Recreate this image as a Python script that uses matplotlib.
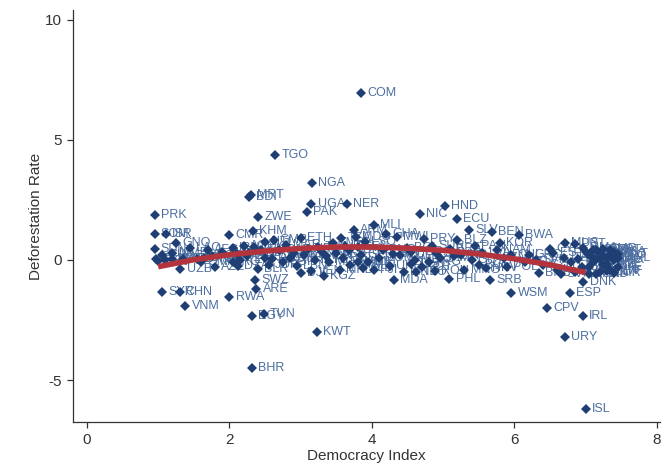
import matplotlib.pyplot as plt

# Country codes, democracy index and deforestation rate
codes = ['PRK', 'SOM', 'ISR', 'SDN', 'LAO', 'GNQ', 'CUB', 'TKM', 'LBY', 'ERI',
         'UZB', 'SYR', 'CHN', 'VNM', 'QAT', 'BTN', 'OMN', 'TCD', 'AZE', 'MMR',
         'GAB', 'AFG', 'BRN', 'SSD', 'IRN',
         'CMR', 'RWA', 'MRT', 'BDI', 'ZWE', 'KHM', 'ARE', 'EGY', 'TUN', 'BHR',
         'BLR', 'DZA', 'AGO', 'CIV', 'GIN', 'TJK', 'KAZ', 'JOR', 'RUS', 'YEM',
         'COG', 'COD', 'IRQ', 'HTI', 'GMB', 'SWZ',
         'TGO', 'NGA', 'UGA', 'PAK', 'ETH', 'MAR', 'BFA', 'GNB', 'NPL', 'LBN',
         'KEN', 'MYS', 'SGP', 'VEN', 'DJI', 'KWT', 'CAF', 'THA', 'SLE',
         'NER', 'COM', 'KGZ', 'ARM', 'MLI', 'TZA', 'ZMB', 'LKA', 'BGD', 'GTM',
         'SEN', 'MOZ', 'GEO', 'BIH', 'FJI', 'LSO', 'MKD', 'TUR', 'IDN', 'ALB',
         'MDG', 'LBR', 'MDV',
         'MWI', 'PRY', 'NIC', 'MDA', 'HND', 'MNE', 'GHA', 'BOL', 'PNG', 'COL',
         'MEX', 'ARG', 'UKR', 'PER', 'SLB', 'VUT', 'SUR', 'JAM', 'DOM', 'TTO',
         'ROU', 'TLS', 'SYC',
         'ECU', 'SLV', 'PHL', 'BEN', 'SRB', 'BRA', 'IND', 'PAN', 'BGR', 'HRV',
         'MNG', 'NAM', 'ZAF', 'LVA', 'POL', 'KOR', 'BLZ', 'GUY', 'CHL', 'STP',
         'BWA', 'WSM', 'CPV', 'ESP', 'DNK', 'IRL', 'URY', 'ISL', 'MUS', 'DMA',
         'PRT', 'GRC', 'SVK', 'CZE', 'EST', 'HUN', 'LTU', 'CYP', 'ITA', 'FRA',
         'JPN', 'SVN', 'KNA', 'GBR', 'BRB',
         'AUS', 'AUT', 'BEL', 'CAN', 'CHE', 'DEU', 'FIN', 'LUX', 'MLT', 'NLD',
         'NOR', 'NZL', 'SWE', 'USA', 'LIE', 'AND', 'SMR', 'MCO', 'BHS', 'KIR',
         'TUV', 'PLW', 'MHL', 'FSM', 'LCA', 'VCT', 'GRD', 'ATG']

democracy = [0.95, 0.95, 1.11, 0.95, 1.45, 1.25, 1.05, 0.97, 1.10, 1.00,
             1.31, 1.06, 1.30, 1.38, 1.20, 1.55, 1.60, 1.75, 1.80, 1.20,
             1.90, 1.70, 1.65, 1.35, 2.05,
             1.99, 2.00, 2.30, 2.28, 2.40, 2.33, 2.38, 2.32, 2.48, 2.32,
             2.40, 2.12, 2.20, 2.10, 2.25, 2.45, 2.50, 2.55, 2.60, 2.15,
             2.35, 2.28, 2.05, 2.50, 2.62, 2.36,
             2.64, 3.16, 3.15, 3.09, 3.00, 2.80, 2.90, 2.85, 3.10, 2.95,
             3.05, 3.20, 2.75, 3.15, 3.00, 3.23, 2.70, 3.25, 3.30,
             3.65, 3.85, 3.33, 3.75, 4.03, 3.57, 3.45, 3.50, 3.60, 3.70,
             3.80, 3.40, 3.85, 3.95, 4.03, 3.90, 3.55, 3.68, 3.35, 3.88,
             3.78, 3.62, 3.80,
             4.35, 4.73, 4.67, 4.31, 5.03, 4.45, 4.20, 4.50, 4.15, 4.40,
             4.60, 4.80, 4.25, 4.55, 4.90, 4.70, 4.85, 4.95, 4.10, 4.62,
             4.88, 4.55, 4.30,
             5.19, 5.36, 5.09, 5.68, 5.66, 5.10, 5.25, 5.45, 5.50, 5.60,
             5.30, 5.75, 5.85, 5.55, 5.90, 5.80, 5.20, 5.40, 5.95, 5.15,
             6.06, 5.96, 6.46, 6.78, 6.97, 6.96, 6.71, 7.00, 6.71, 6.97,
             6.85, 6.20, 6.30, 6.40, 6.55, 6.60, 6.15, 6.50, 6.70, 6.80,
             6.90, 6.65, 6.85, 6.95, 6.35,
             7.05, 7.10, 7.15, 7.20, 7.25, 7.30, 7.35, 7.40, 7.45, 7.05,
             7.10, 7.20, 7.30, 7.40, 7.45, 7.15, 7.25, 7.35, 7.00, 7.40,
             7.10, 7.30, 7.45, 7.20, 7.05, 7.35, 7.15, 7.25]

deforestation = [1.87, 1.08, 1.08, 0.46, 0.48, 0.70, 0.20, 0.05, -0.02, -0.05,
                 -0.37, -1.33, -1.33, -1.92, 0.05, 0.02, -0.10, 0.15, -0.30, 0.30,
                 0.35, 0.40, 0.10, 0.05, 0.50,
                 1.04, -1.54, 2.70, 2.60, 1.80, 1.20, -1.20, -2.33, -2.25, -4.50,
                 -0.38, -0.25, 0.60, 0.25, 0.15, 0.40, 0.10, -0.20, 0.05, 0.00,
                 0.55, 0.30, -0.10, 0.75, 0.85, -0.83,
                 4.37, 3.20, 2.33, 2.00, 0.92, 0.62, 0.30, 0.10, 0.45, -0.25,
                 0.20, 0.00, -0.10, -0.45, -0.55, -3.00, 0.40, 0.55, 0.35,
                 2.33, 6.96, -0.65, 1.25, 1.46, 0.92, 0.70, 0.30, 0.10, -0.20,
                 0.55, -0.10, 0.20, -0.10, -0.42, 0.75, -0.40, 0.40, 0.15, -0.35,
                 0.95, 0.60, -0.10,
                 0.95, 0.88, 1.92, -0.83, 2.25, -0.50, 1.10, 0.50, 0.40, 0.20,
                 0.00, -0.10, -0.25, 0.35, 0.30, -0.30, 0.60, 0.10, 0.10, -0.50,
                 -0.45, -0.15, 0.25,
                 1.71, 1.25, -0.79, 1.17, -0.83, 0.45, 0.20, 0.60, -0.20, -0.35,
                 -0.40, 0.40, 0.10, 0.30, -0.30, 0.70, 0.85, 0.00, 0.20, 0.15,
                 1.04, -1.37, -2.00, -1.37, -0.92, -2.33, -3.20, -6.20, 0.71, 0.50,
                 0.65, 0.20, 0.00, -0.20, 0.30, -0.42, -0.10, 0.45, 0.10, -0.10,
                 0.05, -0.60, -0.50, -0.30, -0.55,
                 0.20, -0.10, 0.05, 0.30, -0.20, 0.10, -0.40, 0.00, 0.25, -0.30,
                 0.40, -0.50, -0.15, 0.35, -0.30, -0.60, 0.45, 0.20, 0.35, -0.55,
                 0.10, -0.45, 0.10, 0.05, -0.60, 0.40, 0.40, 0.15]

# Quadratic fit line
fit_x = [1.0, 1.5, 2.0, 2.5, 3.0, 3.5, 4.0, 4.5, 5.0, 5.5, 6.0, 6.5, 7.0]
fit_y = [-0.28, 0.01, 0.22, 0.37, 0.48, 0.54, 0.54, 0.49, 0.40, 0.25, 0.05, -0.20, -0.52]

plt.rcParams['font.family'] = ['Liberation Sans', 'DejaVu Sans']
plt.rcParams['axes.unicode_minus'] = False

fig = plt.figure(figsize=(6.67, 4.76), dpi=100)
ax = fig.add_axes([0.109, 0.113, 0.881, 0.866])

# Scatter points and their country labels
ax.plot(democracy, deforestation, 'D', color='#1f3f74', markersize=4.6,
        markeredgewidth=0, zorder=3)
for code, x, y in zip(codes, democracy, deforestation):
    ax.annotate(code, (x, y), xytext=(4.5, 0), textcoords='offset points',
                va='center', ha='left', fontsize=9, color='#4d6fa0', zorder=2)

# Fitted curve
ax.plot(fit_x, fit_y, color='#b3343c', linewidth=4, solid_capstyle='butt', zorder=4)

ax.set_xlim(-0.2, 8.05)
ax.set_ylim(-6.75, 10.4)
ax.set_xticks([0, 2, 4, 6, 8])
ax.set_yticks([-5, 0, 5, 10])

ax.spines['top'].set_visible(False)
ax.spines['right'].set_visible(False)
for s in ['left', 'bottom']:
    ax.spines[s].set_color('#333333')
    ax.spines[s].set_linewidth(0.9)
ax.tick_params(direction='out', length=4, width=0.9, colors='#333333',
               labelsize=11)

ax.set_xlabel('Democracy Index', fontsize=11, color='#333333', labelpad=2)
ax.set_ylabel('Deforestation Rate', fontsize=11, color='#333333', labelpad=2)

fig.savefig('out.png', dpi=100)
